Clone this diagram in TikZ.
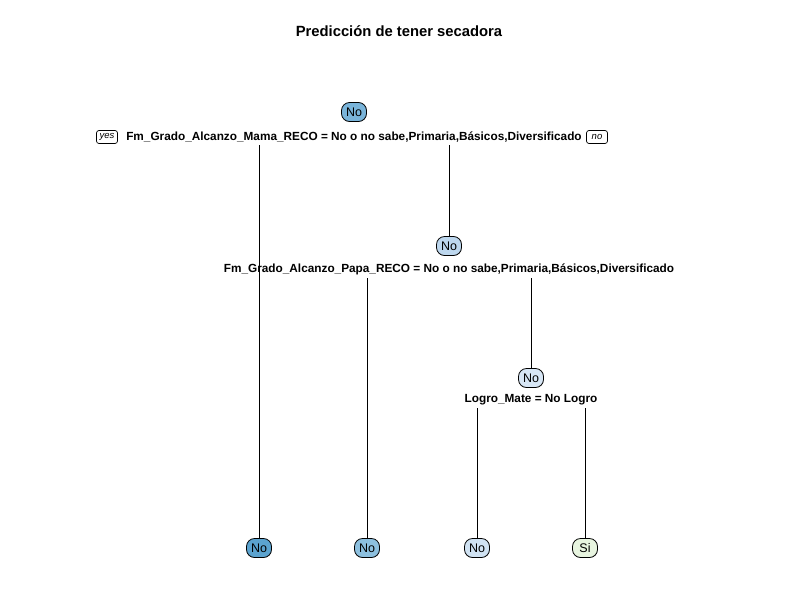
\documentclass[tikz,border=0pt]{standalone}
\usepackage{fontspec}
\setmainfont{Liberation Sans}
\usetikzlibrary{positioning}
\definecolor{rootfill}{HTML}{79B4DA}
\definecolor{midfill}{HTML}{BDD7EE}
\definecolor{lowfill}{HTML}{D7E6F5}
\definecolor{leafA}{HTML}{5BA3CF}
\definecolor{leafB}{HTML}{8DC0DF}
\definecolor{leafC}{HTML}{D0E2F2}
\definecolor{leafD}{HTML}{E8F5E0}
\begin{document}
\begin{tikzpicture}[x=1pt,y=-1pt,line width=0.8pt,
    tnode/.style={draw,rounded corners=8pt,minimum width=25pt,minimum height=19pt,inner sep=1pt,font=\fontsize{12.5}{13}\selectfont},
    splitlbl/.style={font=\bfseries\fontsize{11.8}{13}\selectfont,inner sep=0pt},
    yesno/.style={draw,rounded corners=2.5pt,line width=0.7pt,font=\itshape\fontsize{9.5}{10}\selectfont,inner sep=1.5pt,minimum width=21pt,minimum height=13pt}]
  \useasboundingbox (0,0) rectangle (800,600);
  \node[font=\bfseries\fontsize{14.8}{16}\selectfont] (title) at (399,31) {Predicción de tener secadora};
  % root split
  \node[tnode,fill=rootfill] (root) at (354,112) {No};
  \node[splitlbl] (split1) at (354,137) {Fm\_Grado\_Alcanzo\_Mama\_RECO = No o no sabe,Primaria,Básicos,Diversificado};
  \node[yesno] (yes) at (107,137) {yes};
  \node[yesno] (no) at (597,137) {no};
  \coordinate (s1l) at (259,145);
  \coordinate (s1r) at (449,145);
  % second split
  \node[tnode,fill=midfill] (mid) at (449,246) {No};
  \node[splitlbl] (split2) at (449,269) {Fm\_Grado\_Alcanzo\_Papa\_RECO = No o no sabe,Primaria,Básicos,Diversificado};
  \coordinate (s2l) at (367,278);
  \coordinate (s2r) at (531,278);
  % third split
  \node[tnode,fill=lowfill] (low) at (531,378) {No};
  \node[splitlbl] (split3) at (531,400) {Logro\_Mate = No Logro};
  \coordinate (s3l) at (477,408);
  \coordinate (s3r) at (585,408);
  % leaves
  \node[tnode,fill=leafA] (lfa) at (259,548) {No};
  \node[tnode,fill=leafB] (lfb) at (367,548) {No};
  \node[tnode,fill=leafC] (lfc) at (477,548) {No};
  \node[tnode,fill=leafD] (lfd) at (585,548) {Si};
  \draw (s1l) -- (lfa);
  \draw (s1r) -- (mid);
  \draw (s2l) -- (lfb);
  \draw (s2r) -- (low);
  \draw (s3l) -- (lfc);
  \draw (s3r) -- (lfd);
\end{tikzpicture}
\end{document}
